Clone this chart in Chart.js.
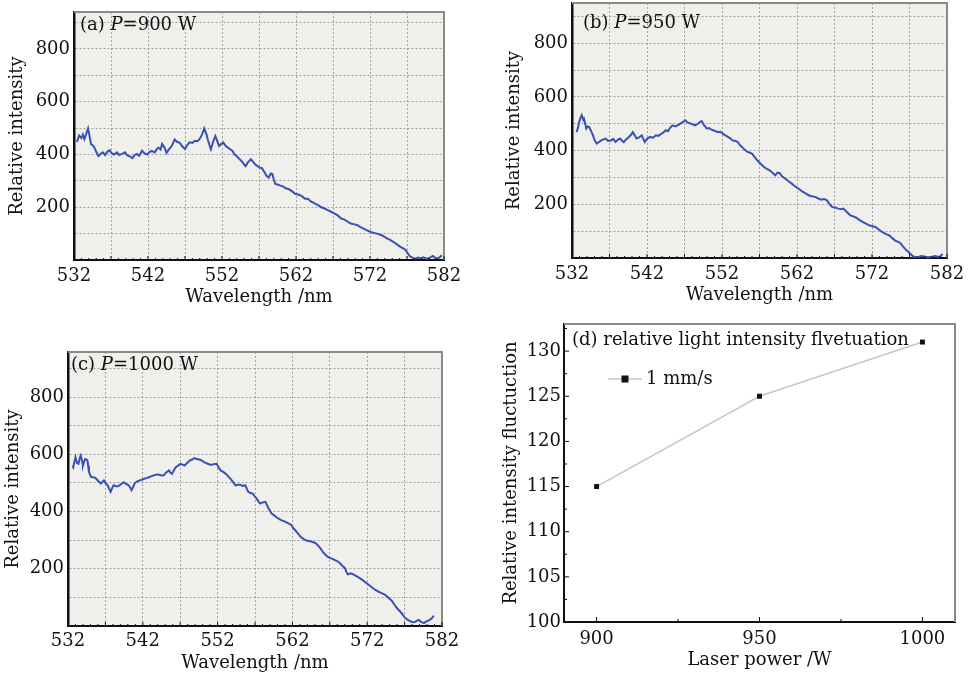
<!DOCTYPE html>
<html>
<head>
<meta charset="utf-8">
<script src="https://cdn.jsdelivr.net/npm/chart.js@4.4.1/dist/chart.umd.min.js"></script>
<style>
body { margin: 0; background: #fff; width: 969px; height: 676px; position: relative; overflow: hidden; }
canvas { position: absolute; }
</style>
</head>
<body>
<canvas id="chartA" width="460" height="310" style="left:0;top:0"></canvas>
<canvas id="chartB" width="479" height="310" style="left:490px;top:0"></canvas>
<canvas id="chartC" width="460" height="356" style="left:0;top:320px"></canvas>
<canvas id="chartD" width="479" height="356" style="left:490px;top:320px"></canvas>
<script>
// (a) P=900 W
var wavelengthA = [532.4,532.7,533.0,533.2,533.4,533.7,533.9,534.1,534.3,534.6,534.8,535.0,535.3,535.6,535.9,536.2,536.5,536.8,537.1,537.4,537.8,538.1,538.5,538.9,539.2,539.6,539.9,540.2,540.5,540.8,541.2,541.5,541.9,542.2,542.5,542.9,543.2,543.4,543.7,543.9,544.2,544.5,544.8,545.2,545.4,545.6,545.9,546.3,546.6,547.0,547.3,547.6,548.0,548.3,548.7,549.0,549.3,549.6,549.9,550.1,550.3,550.5,550.8,551.1,551.4,551.6,551.9,552.2,552.5,552.8,553.1,553.4,553.7,554.1,554.4,554.8,555.0,555.2,555.5,555.9,556.2,556.5,556.8,557.1,557.4,557.8,558.0,558.3,558.6,558.8,559.0,559.2,559.5,559.9,560.3,560.6,561.0,561.4,561.9,562.3,562.8,563.2,563.6,564.0,564.3,564.7,565.0,565.4,565.8,566.2,566.5,566.8,567.2,567.6,568.1,568.5,569.0,569.4,569.8,570.3,570.7,571.2,571.6,572.1,572.6,573.2,573.7,574.3,574.7,575.2,575.6,576.1,576.5,576.8,577.1,577.4,577.8,578.1,578.5,578.8,579.2,579.7,580.1,580.5,580.8,581.1,581.4,581.7];
var intensityA = [448,472,462,475,458,482,499,470,440,432,424,410,394,402,408,398,410,416,405,400,408,398,402,408,396,392,386,398,402,395,414,405,400,409,414,408,420,426,418,440,428,406,418,432,444,457,448,444,432,420,435,446,444,452,450,460,475,499,476,455,436,420,448,470,448,432,440,445,432,426,420,414,400,390,382,370,362,356,370,382,372,362,356,350,348,330,320,312,328,326,305,288,286,282,278,272,269,262,251,248,242,232,232,222,218,212,208,200,196,190,186,182,176,170,157,154,145,138,136,132,125,118,112,106,102,98,92,82,76,68,60,50,44,38,25,14,8,5,9,6,10,5,9,15,8,6,10,18];

// (b) P=950 W
var wavelengthB = [532.6,532.8,532.9,533.1,533.3,533.5,533.6,533.8,533.9,534.1,534.3,534.6,534.8,535.0,535.3,535.6,535.9,536.2,536.5,536.8,537.2,537.5,537.8,538.1,538.4,538.7,538.9,539.2,539.6,539.9,540.1,540.4,540.6,541.0,541.3,541.5,541.7,542.0,542.4,542.8,543.2,543.5,543.9,544.2,544.5,544.8,545.1,545.4,545.8,546.3,546.7,547.1,547.4,547.8,548.1,548.4,548.8,549.1,549.3,549.6,550.0,550.3,550.6,551.0,551.5,551.8,552.1,552.5,552.8,553.1,553.4,553.8,554.1,554.4,554.7,555.0,555.4,555.7,556.0,556.3,556.7,557.1,557.6,558.0,558.4,558.8,559.1,559.4,559.7,560.0,560.4,560.8,561.3,561.6,561.9,562.3,562.8,563.2,563.6,564.0,564.5,564.8,565.2,565.6,566.0,566.3,566.7,567.1,567.5,567.9,568.2,568.6,569.1,569.5,569.9,570.3,570.8,571.2,571.7,572.1,572.5,572.9,573.4,573.8,574.3,574.7,575.1,575.5,575.8,576.1,576.4,576.8,577.1,577.5,577.8,578.2,578.6,579.1,579.5,580.0,580.4,580.9,581.2,581.4];
var intensityB = [469,485,501,520,532,515,519,495,482,490,488,470,457,440,426,432,438,442,445,436,438,444,432,440,445,436,432,442,451,460,469,455,445,450,457,444,432,444,451,448,457,455,463,468,476,472,486,494,490,498,505,513,505,501,498,494,500,507,510,495,482,484,478,474,469,470,463,456,451,446,438,436,432,420,413,404,395,392,389,378,364,352,339,332,326,316,308,318,316,304,296,288,277,270,264,256,246,240,233,230,227,222,217,220,215,202,190,188,184,182,184,172,159,155,150,142,134,128,121,118,115,106,96,90,84,74,65,60,55,44,34,24,16,6,3,4,7,5,3,5,7,4,8,16];

// (c) P=1000 W
var wavelengthC = [532.6,532.7,532.9,533.0,533.2,533.4,533.6,533.7,533.9,534.0,534.2,534.3,534.5,534.6,534.7,534.8,535.1,535.4,535.7,536.0,536.4,536.6,536.8,537.0,537.3,537.5,537.7,537.9,538.1,538.5,538.8,539.1,539.4,539.7,540.1,540.3,540.5,540.7,540.9,541.2,541.6,541.9,542.2,542.6,542.9,543.2,543.5,543.9,544.2,544.5,544.8,545.1,545.5,545.7,545.9,546.2,546.4,546.7,547.0,547.3,547.6,548.0,548.3,548.6,548.9,549.2,549.6,549.9,550.2,550.6,551.1,551.5,551.9,552.1,552.4,552.8,553.1,553.4,553.7,554.1,554.4,554.7,555.0,555.3,555.7,555.9,556.1,556.4,556.7,557.0,557.2,557.5,557.7,558.0,558.4,558.8,559.2,559.6,560.1,560.5,561.0,561.4,561.8,562.2,562.7,563.1,563.6,564.0,564.4,564.8,565.1,565.4,565.7,566.1,566.6,567.0,567.5,567.9,568.3,568.7,569.0,569.2,569.4,569.8,570.1,570.5,570.9,571.3,571.8,572.2,572.7,573.1,573.5,574.0,574.4,574.8,575.3,575.6,575.9,576.2,576.5,576.8,577.0,577.3,577.6,578.0,578.3,578.6,578.9,579.2,579.6,579.9,580.2,580.6,580.9];
var intensityC = [560,555,580,590,570,567,590,596,575,561,578,584,582,579,560,538,521,520,517,508,498,504,509,500,492,480,469,482,492,488,490,496,503,498,492,484,475,486,498,505,509,512,515,518,521,524,527,530,529,526,527,536,544,536,532,546,555,560,567,564,561,572,579,582,587,584,582,578,573,568,563,566,567,556,544,538,532,524,515,502,492,494,494,490,492,480,469,465,463,452,446,434,428,432,434,412,394,386,376,370,365,360,354,340,325,312,302,298,296,293,290,282,273,258,244,238,233,228,221,210,203,190,181,184,181,175,169,162,152,144,134,126,120,114,109,100,88,76,65,56,48,38,30,24,19,14,13,18,21,14,10,16,19,26,36];

var wavelengthTicks = [532, 542, 552, 562, 572, 582];
var intensityTicks = [200, 400, 600, 800];

// (d) fluctuation vs laser power
var laserPower = [900, 950, 1000];
var fluctuation = [115, 125, 131];
var powerTicks = [900, 950, 1000];
var fluctuationTicks = [100, 105, 110, 115, 120, 125, 130];

Chart.defaults.font.family = '"DejaVu Serif", serif';
Chart.defaults.font.size = 18;
Chart.defaults.color = '#111';

var FONT = '18px "DejaVu Serif", serif';

// background, top/right frame, inward ticks, panel label, legend
var plotFrame = {
    id: 'plotFrame',
    beforeDraw: function(chart, args, opts) {
        var a = chart.chartArea, ctx = chart.ctx;
        ctx.save();
        ctx.fillStyle = opts.background;
        ctx.fillRect(a.left, a.top, a.right - a.left, a.bottom - a.top);
        ctx.restore();
    },
    afterDraw: function(chart, args, opts) {
        var a = chart.chartArea, ctx = chart.ctx;
        ctx.save();
        ctx.strokeStyle = opts.frameColor;
        ctx.lineWidth = 2;
        ctx.beginPath();
        ctx.moveTo(a.left, a.top);
        ctx.lineTo(a.right, a.top);
        ctx.lineTo(a.right, a.bottom);
        ctx.stroke();

        // small ticks pointing into the plot
        ctx.strokeStyle = '#111';
        ctx.lineWidth = 1;
        ['x', 'y'].forEach(function(id) {
            var t = opts.ticks[id];
            if (!t) return;
            var scale = chart.scales[id];
            var v = Math.ceil((scale.min - t.base) / t.minor) * t.minor + t.base;
            for (; v <= scale.max + 1e-9; v += t.minor) {
                var k = (v - t.base) / t.major;
                var len = Math.abs(k - Math.round(k)) < 1e-6 ? t.majorLen : t.minorLen;
                var p = scale.getPixelForValue(v);
                ctx.beginPath();
                if (id === 'x') { ctx.moveTo(p, a.bottom); ctx.lineTo(p, a.bottom - len); }
                else { ctx.moveTo(a.left, p); ctx.lineTo(a.left + len, p); }
                ctx.stroke();
            }
        });

        // panel label, e.g. (a) P=900 W
        var x = a.left + opts.label.dx, y = a.top + opts.label.dy;
        ctx.fillStyle = '#111';
        ctx.textBaseline = 'middle';
        ctx.textAlign = 'left';
        opts.label.parts.forEach(function(part) {
            ctx.font = (part.italic ? 'italic ' : '') + FONT;
            ctx.fillText(part.text, x, y);
            x += ctx.measureText(part.text).width;
        });

        if (opts.legend) {
            var ds = chart.data.datasets[0];
            var lx = a.left + opts.legend.dx, ly = a.top + opts.legend.dy;
            ctx.strokeStyle = ds.borderColor;
            ctx.lineWidth = ds.borderWidth;
            ctx.beginPath();
            ctx.moveTo(lx, ly);
            ctx.lineTo(lx + opts.legend.len, ly);
            ctx.stroke();
            ctx.fillStyle = ds.pointBackgroundColor;
            ctx.fillRect(lx + opts.legend.len / 2 - 3.5, ly - 3.5, 7, 7);
            ctx.fillStyle = '#111';
            ctx.font = FONT;
            ctx.fillText(ds.label, lx + opts.legend.len + 4, ly);
        }
        ctx.restore();
    }
};

// fixed axis box size, and no extra room for overhanging labels
function fixSize(prop, size) {
    return function(scale) {
        scale[prop] = size;
        scale.paddingTop = 0;
        scale.paddingBottom = 0;
        scale.paddingLeft = 0;
        scale.paddingRight = 0;
    };
}

function makeSpectrum(id, wl, inten, cfg) {
    var points = wl.map(function(w, i) { return {x: w, y: inten[i]}; });
    return new Chart(document.getElementById(id), {
        type: 'line',
        data: {
            datasets: [{
                data: points,
                borderColor: '#3851b2',
                borderWidth: 2,
                pointRadius: 0,
                tension: 0
            }]
        },
        plugins: [plotFrame],
        options: {
            responsive: false,
            animation: false,
            layout: { padding: { top: cfg.top, right: cfg.right, left: 0, bottom: 0 } },
            plugins: {
                legend: { display: false },
                tooltip: { enabled: false },
                plotFrame: {
                    background: '#eff0ec',
                    frameColor: '#8a8a8a',
                    ticks: { x: { base: 532, minor: 1, major: 5, majorLen: 4, minorLen: 2 } },
                    label: { dx: cfg.labelDx, dy: cfg.labelDy, parts: cfg.label }
                }
            },
            scales: {
                x: {
                    type: 'linear',
                    min: 532,
                    max: 582,
                    afterFit: fixSize('height', cfg.xHeight),
                    ticks: {
                        stepSize: 5,
                        includeBounds: false,
                        autoSkip: false,
                        maxRotation: 0,
                        padding: cfg.xPad,
                        callback: function(v) { return wavelengthTicks.indexOf(v) >= 0 ? String(v) : ''; }
                    },
                    grid: { color: '#a3a3a3', lineWidth: 1, drawTicks: false },
                    border: { color: '#111', width: 2, dash: [2, 2] },
                    title: { display: true, text: 'Wavelength /nm', padding: { top: 0, bottom: cfg.xTitlePad } }
                },
                y: {
                    min: 0,
                    max: cfg.yMax,
                    afterFit: fixSize('width', cfg.yWidth),
                    ticks: {
                        stepSize: 100,
                        includeBounds: false,
                        padding: 4,
                        callback: function(v) { return intensityTicks.indexOf(v) >= 0 ? String(v) : ''; }
                    },
                    grid: { color: '#a3a3a3', lineWidth: 1, drawTicks: false },
                    border: { color: '#111', width: 2.5, dash: [2, 2] },
                    title: { display: true, text: 'Relative intensity', padding: { top: cfg.yTitlePad, bottom: 0 } }
                }
            }
        }
    });
}

makeSpectrum('chartA', wavelengthA, intensityA, {
    top: 12, right: 16, xHeight: 50, yWidth: 74, yMax: 940, xPad: 6, xTitlePad: 2, yTitlePad: 7,
    labelDx: 6, labelDy: 13,
    label: [{text: '(a) '}, {text: 'P', italic: true}, {text: '=900 W'}]
});
makeSpectrum('chartB', wavelengthB, intensityB, {
    top: 3, right: 22, xHeight: 52, yWidth: 82, yMax: 950, xPad: 6, xTitlePad: 4, yTitlePad: 14,
    labelDx: 11, labelDy: 20,
    label: [{text: '(b) '}, {text: 'P', italic: true}, {text: '=950 W'}]
});
makeSpectrum('chartC', wavelengthC, intensityC, {
    top: 32, right: 18, xHeight: 50, yWidth: 68, yMax: 958, xPad: 5, xTitlePad: 2, yTitlePad: 3,
    labelDx: 3, labelDy: 13,
    label: [{text: '(c) '}, {text: 'P', italic: true}, {text: '=1000 W'}]
});

new Chart(document.getElementById('chartD'), {
    type: 'line',
    data: {
        datasets: [{
            label: '1 mm/s',
            data: laserPower.map(function(p, i) { return {x: p, y: fluctuation[i]}; }),
            borderColor: '#c6c6c6',
            borderWidth: 1.5,
            pointStyle: 'rect',
            pointRadius: 3.5,
            pointBackgroundColor: '#111',
            pointBorderColor: '#111',
            pointBorderWidth: 0,
            tension: 0
        }]
    },
    plugins: [plotFrame],
    options: {
        responsive: false,
        animation: false,
        layout: { padding: { top: 4, right: 14, left: 0, bottom: 0 } },
        plugins: {
            legend: { display: false },
            tooltip: { enabled: false },
            plotFrame: {
                background: '#ffffff',
                frameColor: '#8a8a8a',
                ticks: {
                    x: { base: 900, minor: 25, major: 50, majorLen: 5, minorLen: 3 },
                    y: { base: 100, minor: 2.5, major: 5, majorLen: 5, minorLen: 3 }
                },
                label: { dx: 8, dy: 16, parts: [{text: '(d) relative light intensity flvetuation'}] },
                legend: { dx: 44, dy: 55, len: 34 }
            }
        },
        scales: {
            x: {
                type: 'linear',
                min: 890,
                max: 1010,
                afterFit: fixSize('height', 54),
                ticks: {
                    stepSize: 50,
                    includeBounds: false,
                    maxRotation: 0,
                    padding: 7,
                    callback: function(v) { return powerTicks.indexOf(v) >= 0 ? String(v) : ''; }
                },
                grid: { display: false, drawTicks: false },
                border: { color: '#111', width: 2 },
                title: { display: true, text: 'Laser power /W', padding: { top: 0, bottom: 5 } }
            },
            y: {
                min: 100,
                max: 133,
                afterFit: fixSize('width', 74),
                ticks: {
                    stepSize: 5,
                    includeBounds: false,
                    padding: 3,
                    callback: function(v) { return fluctuationTicks.indexOf(v) >= 0 ? String(v) : ''; }
                },
                grid: { display: false, drawTicks: false },
                border: { color: '#111', width: 2 },
                title: { display: true, text: 'Relative intensity fluctuction', padding: { top: 11, bottom: 0 } }
            }
        }
    }
});
</script>
</body>
</html>
